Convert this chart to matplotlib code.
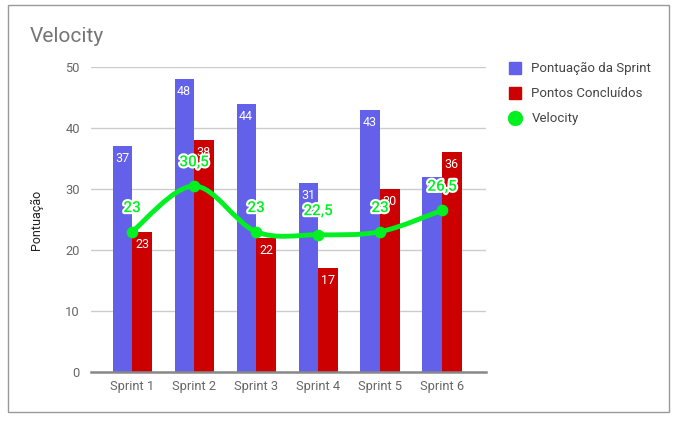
import matplotlib.pyplot as plt
import matplotlib.patheffects as pe
from matplotlib.path import Path
from matplotlib.patches import PathPatch, Rectangle
from matplotlib.lines import Line2D
import numpy as np

plt.rcParams['font.family'] = ['Roboto', 'DejaVu Sans']

# data
sprints = ['Sprint 1', 'Sprint 2', 'Sprint 3', 'Sprint 4', 'Sprint 5', 'Sprint 6']
pontuacao = [37, 48, 44, 31, 43, 32]
concluidos = [23, 38, 22, 17, 30, 36]
velocity = [23, 30.5, 23, 22.5, 23, 26.5]

blue = '#6361ea'
red = '#cc0000'
green = '#00f022'
grey_txt = '#666666'

fig = plt.figure(figsize=(6.78, 4.22), dpi=100)
ax = fig.add_axes([91 / 678, 1 - 372 / 422, (486 - 91) / 678, (372 - 67) / 422])

x = np.arange(len(sprints))
w = 0.31
b1 = ax.bar(x - w / 2 - 0.005, pontuacao, w, color=blue, zorder=2)
b2 = ax.bar(x + w / 2 + 0.005, concluidos, w, color=red, zorder=2)

for bars in (b1, b2):
    for rect in bars:
        h = rect.get_height()
        ax.annotate(str(h), (rect.get_x() + rect.get_width() / 2, h),
                    xytext=(0, -9), textcoords='offset points',
                    ha='center', va='center', color='white', fontsize=9, zorder=3)

# smooth curve (catmull-rom as cubic bezier)
pts = list(zip(x.astype(float), velocity))
verts = [pts[0]]
codes = [Path.MOVETO]
for i in range(len(pts) - 1):
    p0 = pts[max(i - 1, 0)]
    p1 = pts[i]
    p2 = pts[i + 1]
    p3 = pts[min(i + 2, len(pts) - 1)]
    c1 = (p1[0] + (p2[0] - p0[0]) / 6, p1[1] + (p2[1] - p0[1]) / 6)
    c2 = (p2[0] - (p3[0] - p1[0]) / 6, p2[1] - (p3[1] - p1[1]) / 6)
    verts += [c1, c2, p2]
    codes += [Path.CURVE4] * 3
ax.add_patch(PathPatch(Path(verts, codes), fill=False, edgecolor=green, lw=3.5, zorder=4,
                       capstyle='round'))
ax.scatter(x, velocity, s=55, color=green, zorder=5)

for xi, v in zip(x, velocity):
    lbl = ('%g' % v).replace('.', ',')
    ax.annotate(lbl, (xi, v), xytext=(0, 17), textcoords='offset points',
                ha='center', va='center', color=green, fontsize=11, fontweight='medium',
                zorder=6, path_effects=[pe.withStroke(linewidth=3, foreground='white')])

ax.set_xlim(-0.663, 5.71)
ax.set_ylim(0, 50)
ax.set_yticks(range(0, 51, 10))
ax.set_xticks(x)
ax.set_xticklabels(sprints)
ax.grid(axis='y', color='#cccccc', lw=1, zorder=0)
ax.set_axisbelow(True)
for s in ['top', 'right', 'left']:
    ax.spines[s].set_visible(False)
ax.spines['bottom'].set_color('#888888')
ax.spines['bottom'].set_linewidth(1.8)
ax.spines['bottom'].set_zorder(3)
ax.tick_params(axis='both', length=0, labelsize=9.3, colors=grey_txt)
ax.tick_params(axis='y', pad=8)
ax.tick_params(axis='x', pad=6)
ax.set_ylabel('Pontuação', fontsize=9, color='#222222', labelpad=16)

fig.text(30 / 678, 1 - 36 / 422, 'Velocity', fontsize=15, color='#757575', va='center', ha='left')

handles = [
    Line2D([], [], marker='s', ls='', color=blue, markersize=9),
    Line2D([], [], marker='s', ls='', color=red, markersize=9),
    Line2D([], [], marker='o', ls='', color=green, markersize=10),
]
fig.legend(handles, ['Pontuação da Sprint', 'Pontos Concluídos', 'Velocity'],
           loc='upper left', bbox_to_anchor=(503 / 678, 1 - 57 / 422), frameon=False,
           fontsize=9.5, labelcolor='#444444', handlelength=1.0, handletextpad=0.75,
           labelspacing=0.9, borderaxespad=0)

fig.patches.append(Rectangle((8 / 678, 1 - 412 / 422), (669 - 8) / 678, (412 - 5) / 422,
                             transform=fig.transFigure, fill=False, edgecolor='#999999', lw=1))

fig.savefig('out.png', dpi=100)
